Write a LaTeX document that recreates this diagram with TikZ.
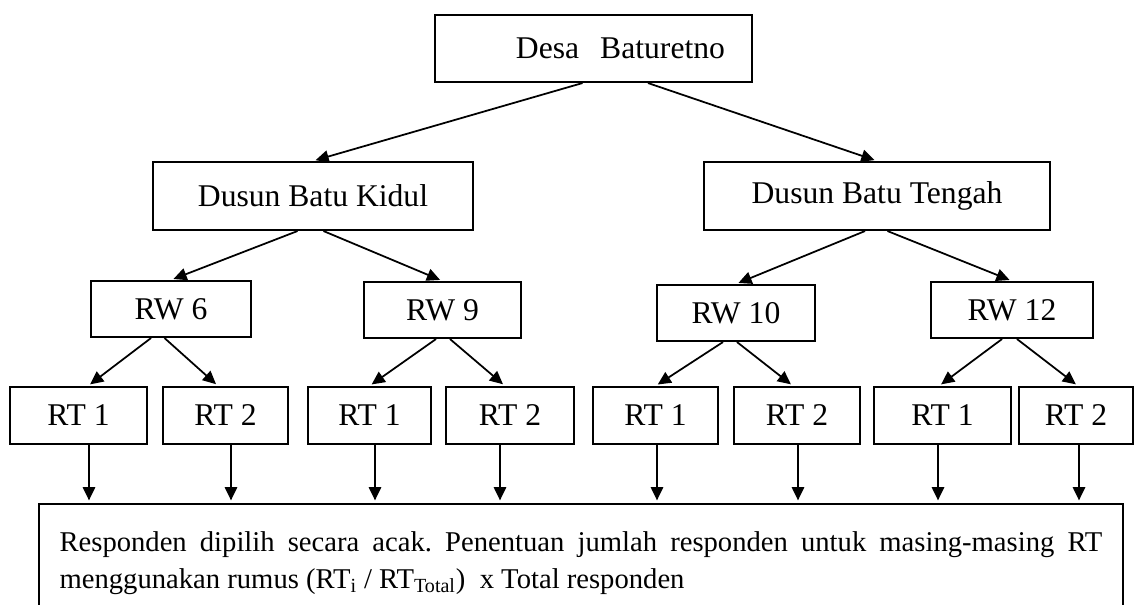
\documentclass[tikz,border=0pt]{standalone}
\usepackage{fontspec}
\setmainfont{Liberation Serif}
\usepackage{tikz}
\usetikzlibrary{arrows.meta}
\tikzstyle{box}=[draw=black,line width=1.2pt,inner sep=0pt,font=\fontsize{18}{21}\selectfont]
\tikzstyle{dusun}=[box,minimum height=1.36cm]
\tikzstyle{rw}=[box,minimum height=1.12cm]
\tikzstyle{rt}=[box,minimum height=1.14cm]
\tikzstyle{resp}=[draw=black,line width=1.2pt,inner ysep=0pt,inner xsep=0.41cm,text width=20.86cm,align=justify,minimum height=2.36cm,font=\fontsize{16.3}{21}\selectfont\frenchspacing]
\tikzstyle{mainedge}=[-{Triangle[length=7.5pt,width=7pt]},line width=1pt,shorten >=1.5pt]

\begin{document}
\begin{tikzpicture}[x=0.02cm,y=-0.02cm]
\useasboundingbox (0,0) rectangle (1140,605);
% 1st row
\node[box,minimum width=6.34cm,minimum height=1.34cm,text width=5.26cm,inner xsep=0.54cm,align=right] (desa) at (593.5,48.5) {Desa~~Baturetno};

% 2nd row
\node[dusun,minimum width=6.4cm]  (kidul)  at (313,196) {Dusun Batu Kidul};
\node[dusun,minimum width=6.92cm] (tengah) at (877,196) {Dusun Batu Tengah};

% 3rd row
\node[rw,minimum width=3.2cm]  (rw6)  at (171,309) {RW 6};
\node[rw,minimum width=3.14cm] (rw9)  at (442.5,310) {RW 9};
\node[rw,minimum width=3.16cm] (rw10) at (736,313) {RW 10};
\node[rw,minimum width=3.24cm] (rw12) at (1012,310) {RW 12};

% 4th row
\node[rt,minimum width=2.74cm] (rt6_1)  at (78.5,415.5) {RT 1};
\node[rt,minimum width=2.5cm]  (rt6_2)  at (225.5,415.5) {RT 2};
\node[rt,minimum width=2.46cm] (rt9_1)  at (369.5,415.5) {RT 1};
\node[rt,minimum width=2.56cm] (rt9_2)  at (510,415.5) {RT 2};
\node[rt,minimum width=2.5cm]  (rt10_1) at (655.5,415.5) {RT 1};
\node[rt,minimum width=2.52cm] (rt10_2) at (797,415.5) {RT 2};
\node[rt,minimum width=2.74cm] (rt12_1) at (942.5,415.5) {RT 1};
\node[rt,minimum width=2.28cm] (rt12_2) at (1076,415.5) {RT 2};

% last row
\node[resp,anchor=north west] (resp) at (38,503) {Responden dipilih secara acak. Penentuan jumlah responden untuk masing-masing RT menggunakan rumus (RT\textsubscript{i} / RT\textsubscript{Total})~~x Total responden};

% edges
\draw[mainedge] ([xshift=-0.22cm]desa.south) -- (kidul.north);
\draw[mainedge] ([xshift=1.09cm]desa.south) -- (tengah.north);

\draw[mainedge] ([xshift=-0.31cm]kidul.south) -- (rw6.north);
\draw[mainedge] ([xshift=0.21cm]kidul.south) -- (rw9.north);
\draw[mainedge] ([xshift=-0.24cm]tengah.south) -- (rw10.north);
\draw[mainedge] ([xshift=0.21cm]tengah.south) -- (rw12.north);

\draw[mainedge] ([xshift=-0.4cm]rw6.south) -- ([xshift=0.19cm]rt6_1.north);
\draw[mainedge] ([xshift=-0.13cm]rw6.south) -- ([xshift=-0.15cm]rt6_2.north);
\draw[mainedge] ([xshift=-0.13cm]rw9.south) -- (rt9_1.north);
\draw[mainedge] ([xshift=0.15cm]rw9.south) -- ([xshift=-0.1cm]rt9_2.north);
\draw[mainedge] ([xshift=-0.26cm]rw10.south) -- (rt10_1.north);
\draw[mainedge] ([xshift=0.02cm]rw10.south) -- ([xshift=-0.08cm]rt10_2.north);
\draw[mainedge] ([xshift=-0.2cm]rw12.south) -- ([xshift=-0.07cm]rt12_1.north);
\draw[mainedge] ([xshift=0.1cm]rw12.south) -- ([xshift=0.04cm]rt12_2.north);

\draw[mainedge] ([xshift=0.21cm]rt6_1.south) -- ([xshift=0.21cm]rt6_1.south |- resp.north);
\draw[mainedge] ([xshift=0.11cm]rt6_2.south) -- ([xshift=0.11cm]rt6_2.south |- resp.north);
\draw[mainedge] ([xshift=0.11cm]rt9_1.south) -- ([xshift=0.11cm]rt9_1.south |- resp.north);
\draw[mainedge] ([xshift=-0.2cm]rt9_2.south) -- ([xshift=-0.2cm]rt9_2.south |- resp.north);
\draw[mainedge] ([xshift=0.03cm]rt10_1.south) -- ([xshift=0.03cm]rt10_1.south |- resp.north);
\draw[mainedge] ([xshift=0.02cm]rt10_2.south) -- ([xshift=0.02cm]rt10_2.south |- resp.north);
\draw[mainedge] ([xshift=-0.09cm]rt12_1.south) -- ([xshift=-0.09cm]rt12_1.south |- resp.north);
\draw[mainedge] ([xshift=0.06cm]rt12_2.south) -- ([xshift=0.06cm]rt12_2.south |- resp.north);

\end{tikzpicture}
\end{document}
